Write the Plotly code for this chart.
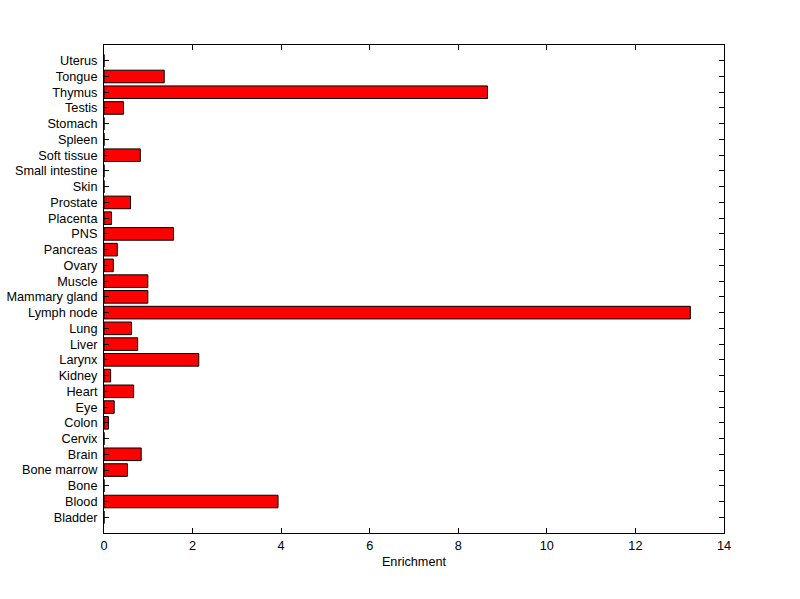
import plotly.graph_objects as go

tissues = ["Bladder", "Blood", "Bone", "Bone marrow", "Brain", "Cervix", "Colon", "Eye",
           "Heart", "Kidney", "Larynx", "Liver", "Lung", "Lymph node", "Mammary gland",
           "Muscle", "Ovary", "Pancreas", "PNS", "Placenta", "Prostate", "Skin",
           "Small intestine", "Soft tissue", "Spleen", "Stomach", "Testis", "Thymus",
           "Tongue", "Uterus"]
enrichment = [0.0, 3.93, 0.0, 0.53, 0.84, 0.0, 0.10, 0.23,
              0.67, 0.15, 2.14, 0.76, 0.62, 13.24, 0.99,
              0.99, 0.21, 0.30, 1.57, 0.17, 0.60, 0.0,
              0.0, 0.82, 0.0, 0.0, 0.44, 8.66,
              1.36, 0.0]
positions = list(range(1, len(tissues) + 1))
x_ticks = [0, 2, 4, 6, 8, 10, 12, 14]

fig = go.Figure(go.Bar(
    x=enrichment, y=positions, orientation="h", width=0.8,
    marker=dict(color="#ff0000", line=dict(color="black", width=1)),
))

font = dict(family="Liberation Sans, Arial, sans-serif", size=12.7, color="black")
fig.update_layout(
    width=800, height=599,
    margin=dict(l=104, r=76, t=45, b=66),
    paper_bgcolor="white", plot_bgcolor="white",
    showlegend=False, font=font,
    xaxis=dict(range=[0, 14], tickvals=x_ticks, ticks="inside", ticklen=5,
               tickcolor="black", showline=True, linecolor="black", linewidth=1,
               mirror="ticks", showgrid=False, zeroline=False, automargin=False,
               ticklabelstandoff=1,
               title=dict(text="Enrichment", font=font, standoff=4)),
    yaxis=dict(range=[0, 31], tickvals=positions, ticktext=tissues, ticks="inside",
               ticklen=5, tickcolor="black", showline=True, linecolor="black",
               linewidth=1, mirror="ticks", showgrid=False, zeroline=False,
               automargin=False, ticklabelstandoff=3),
)
fig.write_html("out.html", config={"displayModeBar": False},
               post_script="document.body.style.margin='0';")
